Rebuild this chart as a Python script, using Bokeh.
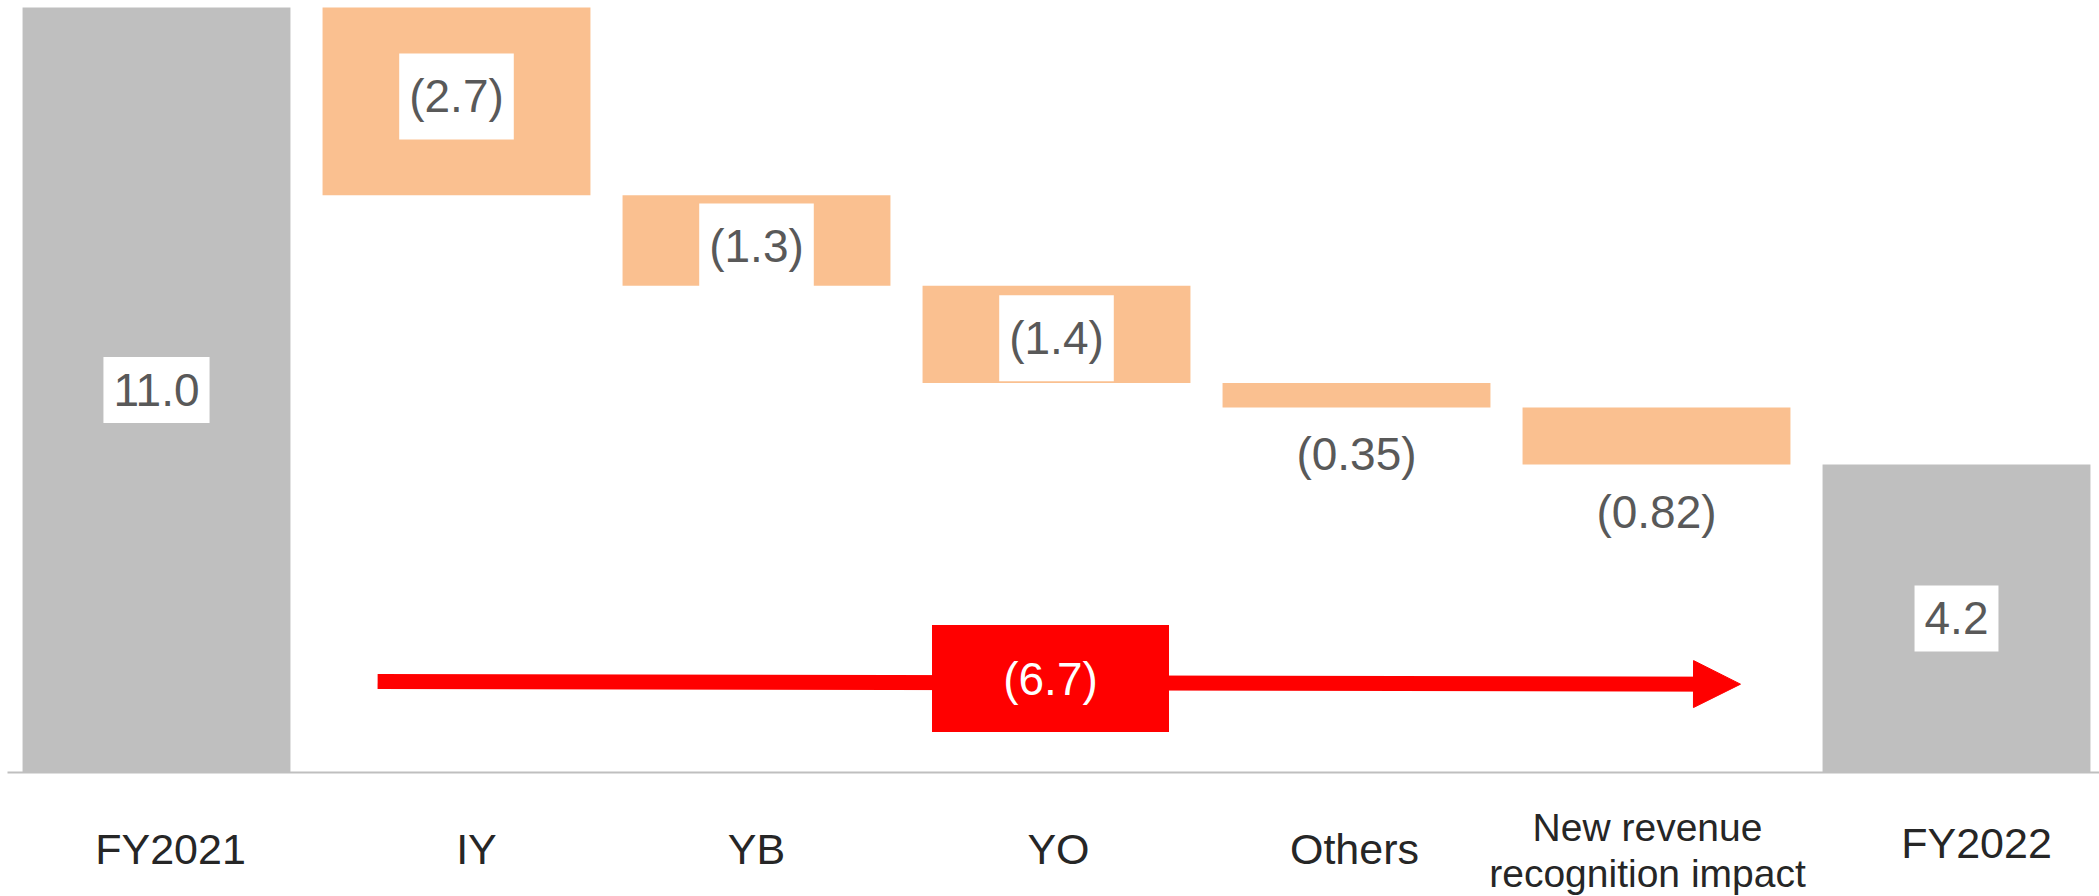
from bokeh.plotting import figure
from bokeh.models import Range1d, FixedTicker, Arrow, NormalHead, ColumnDataSource, LinearAxis
from bokeh.core.properties import value
from bokeh.embed import file_html
from bokeh.resources import INLINE

# ---- data ----
categories = ["FY2021", "IY", "YB", "YO", "Others", "New revenue\nrecognition impact", "FY2022"]
start_value = 11.0
deltas = [-2.7, -1.3, -1.4, -0.35, -0.82]
end_bar_value = 4.43
value_labels = ["11.0", "(2.7)", "(1.3)", "(1.4)", "(0.35)", "(0.82)", "4.2"]
label_inside = [True, True, True, True, False, False, True]
total_label = "(6.7)"

# ---- derived ----
xs = list(range(len(categories)))
tops, bottoms = [start_value], [0.0]
run = start_value
for d in deltas:
    tops.append(run)
    run += d
    bottoms.append(run)
tops.append(end_bar_value)
bottoms.append(0.0)
colors = ["#BFBFBF"] + ["#FAC090"] * len(deltas) + ["#BFBFBF"]

# ---- layout / style ----
FONT = "Liberation Sans"
W, H = 2099, 896
BASE = 772          # pixel row of the zero line
STEP = 300          # pixels per category
ppu = (BASE - 7) / start_value
y_top = BASE / ppu
y_bot = -(H - BASE) / ppu
x0 = -156 / STEP
x1 = (W - 156) / STEP

label_nudge = [0, -5, 6, 4, 47, 48, 0]          # px, downward
tick_nudge = [14, 20, 0, 2, -2, -9, 20]          # px, rightward
tick_standoff = [46, 46, 46, 46, 46, 27, 40]

label_y = [(t + b) / 2 if ins else b for t, b, ins in zip(tops, bottoms, label_inside)]

src = ColumnDataSource(dict(x=xs, top=tops, bottom=bottoms, color=colors))
lab = ColumnDataSource(dict(x=xs, y=label_y, dy=label_nudge, text=value_labels))

p = figure(width=W, height=H, output_backend="svg", toolbar_location=None,
           x_range=Range1d(x0, x1), y_range=Range1d(y_bot, y_top),
           y_axis_location=None, min_border=0)
p.outline_line_color = None
p.grid.visible = False
p.background_fill_color = "white"

p.vbar(x="x", bottom="bottom", top="top", width=0.893, fill_color="color",
       line_color=None, source=src)

p.text(x="x", y="y", text="text", y_offset="dy", source=lab,
       text_font=value(FONT), text_font_size="46px", text_color="#595959",
       text_align="center", text_baseline="middle",
       background_fill_color="white", padding=(10, 17))

# total change arrow
arrow = Arrow(end=NormalHead(size=47, fill_color="#FF0000", line_color="#FF0000"),
              x_start=0.737, y_start=1.31, x_end=5.28, y_end=1.27,
              line_color="#FF0000", line_width=15, level="underlay")
p.add_layout(arrow)
p.rect(x=[2.98], y=[1.35], width=237, height=107, width_units="screen",
       height_units="screen", fill_color="#FF0000", line_color=None)
p.text(x=[2.98], y=[1.35], text=[total_label], text_font=value(FONT),
       text_font_size="46px", text_color="white", text_align="center",
       text_baseline="middle")

# category axes (grouped by label placement)
groups = {}
for i, c in enumerate(categories):
    multi = "\n" in c
    key = (tick_standoff[i], 39 if multi else 43)
    groups.setdefault(key, []).append(i)

first = True
for (standoff, fs), idx in groups.items():
    ax = p.xaxis[0] if first else LinearAxis()
    ticks = [i + tick_nudge[i] / STEP for i in idx]
    ax.fixed_location = 0
    ax.ticker = FixedTicker(ticks=ticks)
    ax.major_label_overrides = {t: categories[i] for t, i in zip(ticks, idx)}
    ax.axis_line_color = "#BFBFBF" if first else None
    ax.axis_line_width = 2
    ax.bounds = (-0.497, x1)
    ax.major_tick_line_color = None
    ax.minor_tick_line_color = None
    ax.major_label_standoff = standoff
    ax.major_label_text_font = FONT
    ax.major_label_text_font_size = f"{fs}px"
    ax.major_label_text_color = "#262626"
    ax.major_label_text_line_height = 1.08
    if not first:
        p.add_layout(ax, "below")
    first = False

open("out.html", "w").write(file_html(p, INLINE))
